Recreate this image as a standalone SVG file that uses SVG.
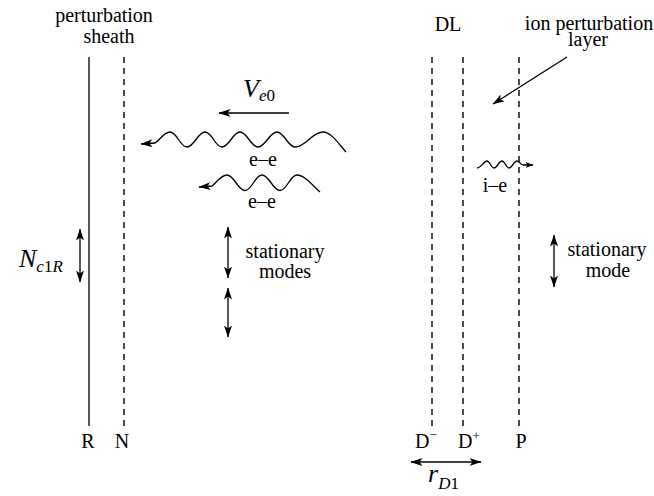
<svg xmlns="http://www.w3.org/2000/svg" width="654" height="496" viewBox="0 0 654 496" font-family="'Liberation Serif', 'DejaVu Serif', 'Times New Roman', Times, serif">
<style>
text{font-family:'Liberation Serif','DejaVu Serif','Times New Roman',Times,serif;font-size:20px;fill:#000}
.m{text-anchor:middle}
.it{font-style:italic}
.big{font-size:26px}
.sub{font-size:17px}
.solid{stroke:#000;stroke-width:1.3;fill:none}
.dash{stroke:#000;stroke-width:1.4;fill:none;stroke-dasharray:6 5}
.arr{stroke:#000;stroke-width:1.3;fill:none}
.wave{stroke:#000;stroke-width:1.3;fill:none}
</style>
<defs>
<marker id="ah" viewBox="0 0 12 8" refX="11.5" refY="4" markerWidth="12" markerHeight="8" orient="auto-start-reverse" markerUnits="userSpaceOnUse">
<path d="M0,0 L12,4 L0,8 L3,4 z" fill="#000"/>
</marker>
<marker id="ahs" viewBox="0 0 8 6" refX="7.5" refY="3" markerWidth="8" markerHeight="6" orient="auto" markerUnits="userSpaceOnUse">
<path d="M0,0 L8,3 L0,6 L2,3 z" fill="#000"/>
</marker>
</defs>

<g id="labels-top">
<text class="m" x="104" y="22">perturbation</text>
<text class="m" x="109" y="43">sheath</text>
<text class="m" x="448" y="31">DL</text>
<text class="m" x="589" y="30">ion perturbation</text>
<text class="m" x="588" y="46">layer</text>
</g>

<g id="node-R">
<line class="solid" x1="89" y1="57" x2="89" y2="426"/>
<text class="m" x="88" y="448">R</text>
</g>
<g id="node-N">
<line class="dash" x1="124" y1="57" x2="124" y2="426"/>
<text class="m" x="122" y="448">N</text>
</g>
<g id="node-Dminus">
<line class="dash" x1="432" y1="57" x2="432" y2="426"/>
<text x="415" y="448">D<tspan font-size="13" dy="-9">−</tspan></text>
</g>
<g id="node-Dplus">
<line class="dash" x1="463" y1="57" x2="463" y2="426"/>
<text x="458" y="448">D<tspan font-size="13" dy="-8">+</tspan></text>
</g>
<g id="node-P">
<line class="dash" x1="519" y1="57" x2="519" y2="426"/>
<text class="m" x="521" y="448">P</text>
</g>

<g id="label-Ve0">
<text x="243" y="97"><tspan class="it big">V</tspan><tspan class="sub it" dy="4">e</tspan><tspan class="sub">0</tspan></text>
</g>
<g id="label-Nc1R">
<text x="19" y="267"><tspan class="it big">N</tspan><tspan class="sub it" dy="5">c</tspan><tspan class="sub">1</tspan><tspan class="sub it">R</tspan></text>
</g>
<g id="label-rD1">
<text x="428" y="482"><tspan class="it big">r</tspan><tspan class="sub it" dy="7">D</tspan><tspan class="sub">1</tspan></text>
</g>
<g id="label-waves">
<text class="m" x="263" y="166">e–e</text>
<text class="m" x="262" y="208">e–e</text>
<text class="m" x="495" y="192">i–e</text>
</g>
<g id="label-stationary">
<text class="m" x="285" y="258">stationary</text>
<text class="m" x="285" y="278">modes</text>
<text class="m" x="607" y="256">stationary</text>
<text class="m" x="608" y="277">mode</text>
</g>

<g id="connectors">
<line class="arr" x1="289" y1="113" x2="219" y2="113" marker-end="url(#ah)"/>
<line class="arr" x1="567" y1="57" x2="493" y2="104" marker-end="url(#ah)"/>
<path class="wave" marker-end="url(#ah)" d="M346,152 C338,143 331,132 323,132 C312,132 306,147 295,147 C288,147 284,132 277,132 C269.5,132 265.5,147 258,147 C251,147 247,132 240,132 C233,132 229,147 222,147 C215,147 212,132 205,132 C198,132 194,147 187,147 C180,147 177,132 170,132 C164,132 159,141 155,143 L141,144"/>
<path class="wave" marker-end="url(#ah)" d="M320,192 C313,186 305,175 297,175 C290,175 287,190.5 280,190.5 C273,190.5 269,175 262,175 C255,175 252,190.5 245,190.5 C238,190.5 234,175 227,175 C221,175 216,183 212,186 L199,187"/>
<path class="wave" marker-end="url(#ahs)" d="M477,168 C481,168 484,161 487,161 C490,161 491,168 494,168 C497,168 499,161 502,161 C505,161 506,168 509,168 C512,168 514,161 517,161 C519,161 520,164 523,165 L533,165"/>
<line class="arr" x1="80" y1="229" x2="80" y2="282" marker-start="url(#ah)" marker-end="url(#ah)"/>
<line class="arr" x1="228" y1="227" x2="228" y2="278" marker-start="url(#ah)" marker-end="url(#ah)"/>
<line class="arr" x1="228" y1="288" x2="228" y2="337" marker-start="url(#ah)" marker-end="url(#ah)"/>
<line class="arr" x1="554" y1="235" x2="554" y2="287" marker-start="url(#ah)" marker-end="url(#ah)"/>
<line class="arr" x1="411" y1="462" x2="481" y2="462" marker-start="url(#ah)" marker-end="url(#ah)"/>
</g>
</svg>
